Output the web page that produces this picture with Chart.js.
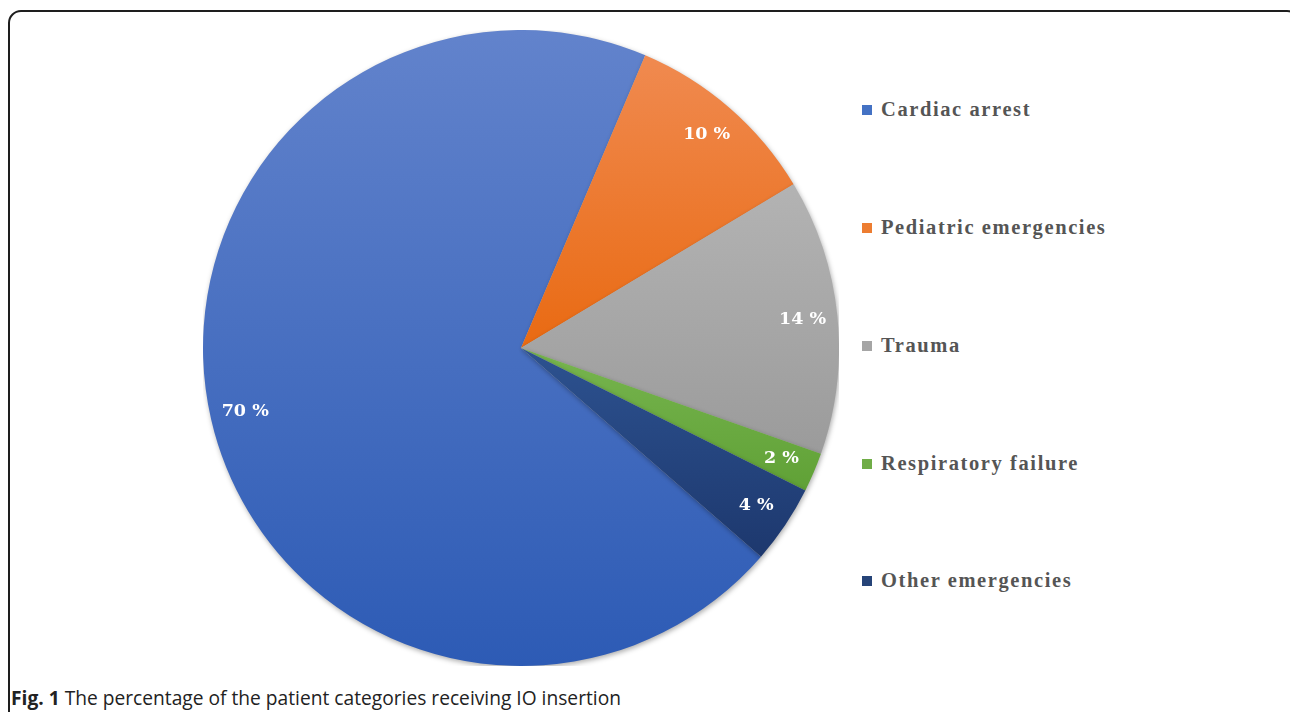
<!DOCTYPE html>
<html>
<head>
<meta charset="utf-8">
<script src="https://cdn.jsdelivr.net/npm/chart.js@4.4.0/dist/chart.umd.min.js"></script>
<style>
  html, body { margin:0; padding:0; background:#fff; width:1290px; height:712px; overflow:hidden; }
  #frame { position:absolute; left:8px; top:10px; width:1292px; height:740px; border:2px solid #1e1e1e; border-radius:13px; box-sizing:border-box; }
  #wrap { position:absolute; left:203px; top:30px; width:636px; height:636px; }
  #legend { position:absolute; left:0; top:0; }
  .item { position:absolute; left:862px; height:24px; display:flex; align-items:center; font-family:"Liberation Serif", "Times New Roman", serif; font-weight:bold; font-size:20.5px; letter-spacing:1.6px; color:#555555; white-space:nowrap; }
  .sw { width:10px; height:10px; margin-right:9px; margin-top:1px; }
  #caption { position:absolute; left:11px; top:684px; font-family:"Open Sans", sans-serif; font-size:19.2px; color:#222; white-space:nowrap; }
  #caption b { font-weight:bold; }
</style>
</head>
<body>
<div id="frame"></div>
<div id="wrap"><canvas id="c"></canvas></div>
<div id="legend"></div>
<div id="caption"><b>Fig. 1</b> The percentage of the patient categories receiving IO insertion</div>
<script>
const categories = ["Cardiac arrest", "Pediatric emergencies", "Trauma", "Respiratory failure", "Other emergencies"];
const values = [70, 10, 14, 2, 4];
const valueLabels = ["70 %", "10 %", "14 %", "2 %", "4 %"];
const topColors = ["#6283cc", "#f08a50", "#b3b3b3", "#77b54f", "#2d5290"];
const bottomColors = ["#2d5bb5", "#e96a12", "#9b9b9b", "#60a136", "#1d386e"];
const swatchColors = ["#4472c4", "#ed7d31", "#a5a5a5", "#70ad47", "#264478"];

const ROTATION = 131;

// legend (HTML, real text)
const legendEl = document.getElementById('legend');
const legendTops = [97, 215, 333, 451, 568];
categories.forEach((c, i) => {
  const d = document.createElement('div');
  d.className = 'item';
  d.style.top = legendTops[i] + 'px';
  const s = document.createElement('span');
  s.className = 'sw';
  s.style.background = swatchColors[i];
  d.appendChild(s);
  d.appendChild(document.createTextNode(c));
  legendEl.appendChild(d);
});

function sliceGradient(ctx) {
  const chart = ctx.chart;
  const area = chart.chartArea;
  if (!area) return swatchColors[ctx.dataIndex];
  const i = ctx.dataIndex;
  const total = values.reduce((a, b) => a + b, 0);
  let start = ROTATION;
  for (let k = 0; k < i; k++) start += values[k] / total * 360;
  const end = start + values[i] / total * 360;
  const cx = (area.left + area.right) / 2, cy = (area.top + area.bottom) / 2;
  const r = Math.min(area.right - area.left, area.bottom - area.top) / 2;
  let minY = cy, maxY = cy;
  for (let a = start; a <= end + 0.001; a += Math.max(0.5, (end - start) / 60)) {
    const rad = (a - 90) * Math.PI / 180;
    const y = cy + r * Math.sin(rad);
    minY = Math.min(minY, y); maxY = Math.max(maxY, y);
  }
  const g = chart.ctx.createLinearGradient(0, minY, 0, maxY);
  g.addColorStop(0, topColors[i]);
  g.addColorStop(1, bottomColors[i]);
  return g;
}

const labelPlugin = {
  id: 'sliceLabels',
  beforeDatasetsDraw(chart) {
    const c = chart.ctx;
    c.save();
    c.shadowColor = 'rgba(0,0,0,0.32)';
    c.shadowBlur = 5;
    c.shadowOffsetX = 1;
    c.shadowOffsetY = 2;
  },
  afterDatasetsDraw(chart) {
    const c = chart.ctx;
    c.restore();
    const meta = chart.getDatasetMeta(0);
    c.save();
    c.fillStyle = '#ffffff';
    c.font = 'bold 17.5px "DejaVu Serif", serif';
    c.textAlign = 'center';
    c.textBaseline = 'middle';
    meta.data.forEach((arc, i) => {
      const p = arc.getProps(['x', 'y', 'startAngle', 'endAngle', 'outerRadius'], true);
      const mid = (p.startAngle + p.endAngle) / 2;
      const rr = p.outerRadius * 0.89;
      c.fillText(valueLabels[i], p.x + rr * Math.cos(mid), p.y + rr * Math.sin(mid));
    });
    c.restore();
  }
};

new Chart(document.getElementById('c'), {
  type: 'pie',
  data: {
    labels: categories,
    datasets: [{
      data: values,
      backgroundColor: sliceGradient,
      borderWidth: 0,
      hoverOffset: 0
    }]
  },
  options: {
    responsive: true,
    maintainAspectRatio: false,
    animation: false,
    rotation: ROTATION,
    layout: { padding: 0 },
    plugins: {
      legend: { display: false },
      tooltip: { enabled: false },
      title: { display: false }
    }
  },
  plugins: [labelPlugin]
});
</script>
</body>
</html>
